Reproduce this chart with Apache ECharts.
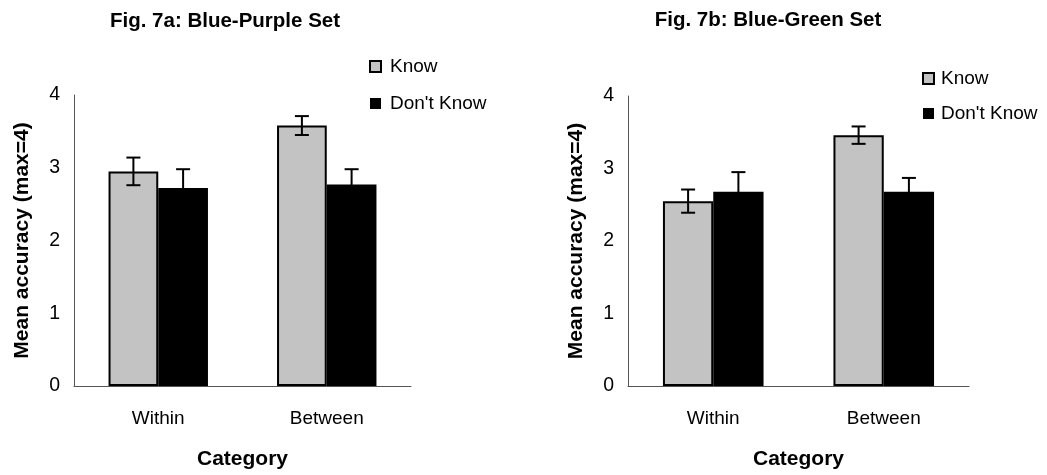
<!DOCTYPE html>
<html>
<head>
<meta charset="utf-8">
<script src="https://cdn.jsdelivr.net/npm/echarts@6/dist/echarts.min.js"></script>
<style>
  html, body { margin: 0; padding: 0; background: #fff; }
  #chart { width: 1047px; height: 475px; }
</style>
</head>
<body>
<div id="chart"></div>
<script>
// Category labels shared by both panels
const categories = ['Within', 'Between'];
const seriesNames = ['Know', "Don't Know"];

// Fig. 7a: Blue-Purple Set — means and error half-widths
const knowA = [2.95, 3.58];
const knowErrA = [0.19, 0.13];
const dontKnowA = [2.72, 2.77];
const dontKnowErrA = [0.26, 0.21];

// Fig. 7b: Blue-Green Set — means and error half-widths
const knowB = [2.55, 3.46];
const knowErrB = [0.16, 0.12];
const dontKnowB = [2.68, 2.68];
const dontKnowErrB = [0.27, 0.19];

// Value axis
const yMin = 0, yMax = 4, yStep = 1;

const FONT = 'Liberation Sans';
const GAP = 0.41;            // barCategoryGap as a fraction
const KNOW_FILL = '#c3c3c3';

const chart = echarts.init(document.getElementById('chart'), null, { renderer: 'canvas' });

function errorBars(axisIdx, means, errs, side) {
  return {
    type: 'custom',
    xAxisIndex: axisIdx,
    yAxisIndex: axisIdx,
    z: 5,
    silent: true,
    data: means.map((m, i) => [i, m, errs[i]]),
    renderItem(params, api) {
      const i = api.value(0), m = api.value(1), e = api.value(2);
      const band = api.size([1, 0])[0];
      const barW = band * (1 - GAP) / 2;
      const cx = api.coord([i, m])[0] + side * barW / 2;
      const yTop = api.coord([i, m + e])[1];
      const yBot = api.coord([i, m - e])[1];
      const half = 7;
      const st = { stroke: '#000', lineWidth: 2 };
      return {
        type: 'group',
        children: [
          { type: 'line', shape: { x1: cx, y1: yTop, x2: cx, y2: yBot }, style: st },
          { type: 'line', shape: { x1: cx - half, y1: yTop, x2: cx + half, y2: yTop }, style: st },
          { type: 'line', shape: { x1: cx - half, y1: yBot, x2: cx + half, y2: yBot }, style: st }
        ]
      };
    }
  };
}

function xAxisFor(gridIdx) {
  return {
    type: 'category',
    gridIndex: gridIdx,
    data: categories,
    name: 'Category',
    nameLocation: 'middle',
    nameGap: 63,
    nameTextStyle: { fontFamily: FONT, fontSize: 21, fontWeight: 'bold', color: '#000' },
    axisLine: { lineStyle: { color: '#555', width: 1 } },
    axisTick: { show: false },
    axisLabel: { fontFamily: FONT, fontSize: 19, color: '#000', margin: 23 }
  };
}

function yAxisFor(gridIdx) {
  return {
    type: 'value',
    gridIndex: gridIdx,
    min: yMin,
    max: yMax,
    interval: yStep,
    name: 'Mean accuracy (max=4)',
    nameLocation: 'middle',
    nameGap: 41,
    nameTextStyle: { fontFamily: FONT, fontSize: 21, fontWeight: 'bold', color: '#000' },
    axisLine: { show: true, lineStyle: { color: '#555', width: 1 } },
    axisTick: { show: false },
    splitLine: { show: false },
    axisLabel: { fontFamily: FONT, fontSize: 19.5, color: '#000', margin: 14 }
  };
}

function barPair(axisIdx, know, dontKnow) {
  return [
    {
      name: seriesNames[0], type: 'bar', xAxisIndex: axisIdx, yAxisIndex: axisIdx,
      data: know, barGap: '0%', barCategoryGap: (GAP * 100) + '%',
      itemStyle: { color: KNOW_FILL, borderColor: '#000', borderWidth: 2 }
    },
    {
      name: seriesNames[1], type: 'bar', xAxisIndex: axisIdx, yAxisIndex: axisIdx,
      data: dontKnow, barGap: '0%', barCategoryGap: (GAP * 100) + '%',
      itemStyle: { color: '#000' }
    }
  ];
}

function legendAt(left, top, gap, textPad) {
  return {
    data: seriesNames,
    orient: 'vertical',
    left: left,
    top: top,
    padding: 0,
    itemWidth: 11,
    itemHeight: 11,
    itemGap: gap,
    icon: 'rect',
    selectedMode: false,
    textStyle: { fontFamily: FONT, fontSize: 19, lineHeight: 19, color: '#000', padding: [0, 0, 0, textPad] }
  };
}

const titleStyle = (text) => ({
  text: text, fontFamily: FONT, fontSize: 20.5, fontWeight: 'bold', fill: '#000',
  align: 'center', verticalAlign: 'middle'
});

chart.setOption({
  backgroundColor: '#fff',
  animation: false,
  grid: [
    { left: 74, top: 95, width: 337, height: 291 },
    { left: 628, top: 96, width: 341, height: 291 }
  ],
  xAxis: [xAxisFor(0), xAxisFor(1)],
  yAxis: [yAxisFor(0), yAxisFor(1)],
  legend: [legendAt(369, 57, 18, 4), legendAt(922, 69, 16, 2)],
  graphic: [
    { type: 'text', x: 225, y: 21.5, style: titleStyle('Fig. 7a: Blue-Purple Set') },
    { type: 'text', x: 768, y: 20, style: titleStyle('Fig. 7b: Blue-Green Set') }
  ],
  series: [
    ...barPair(0, knowA, dontKnowA),
    ...barPair(1, knowB, dontKnowB),
    errorBars(0, knowA, knowErrA, -1),
    errorBars(0, dontKnowA, dontKnowErrA, 1),
    errorBars(1, knowB, knowErrB, -1),
    errorBars(1, dontKnowB, dontKnowErrB, 1)
  ]
});
</script>
</body>
</html>
